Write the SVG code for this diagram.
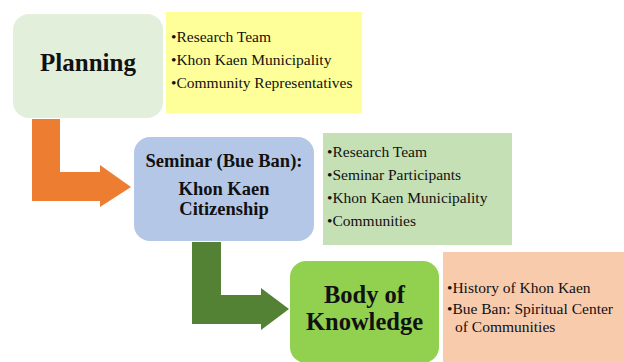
<svg xmlns="http://www.w3.org/2000/svg" width="624" height="362" viewBox="0 0 624 362">
<style>
.t{font-family:"Liberation Serif","Times New Roman",serif;fill:#111;}
.h{font-weight:bold;text-anchor:middle;}
.li{font-size:15.5px;}
</style>
<rect width="624" height="362" fill="#ffffff"/>
<g id="connectors">
<path d="M32,119 H60 V172 H100 V165 L131,187 L100,207 V201 H32 Z" fill="#ed7d31"/>
<path d="M192,242 H221 V295 H261 V288 L289,309 L261,330 V324 H192 Z" fill="#548235"/>
</g>
<g id="planning">
<rect x="13" y="14" width="150" height="104" rx="16" fill="#e2efda"/>
<text class="t h" x="88" y="71" font-size="25">Planning</text>
</g>
<g id="planning-list">
<rect x="166" y="12" width="196" height="101" fill="#ffff99"/>
<text class="t li" x="171" y="42">•Research Team</text>
<text class="t li" x="171" y="65">•Khon Kaen Municipality</text>
<text class="t li" x="171" y="88">•Community Representatives</text>
</g>
<g id="seminar">
<rect x="134" y="137" width="180" height="104" rx="16" fill="#b4c7e7"/>
<text class="t h" x="224" y="167" font-size="18.5">Seminar (Bue Ban):</text>
<text class="t h" x="224" y="195" font-size="18.5">Khon Kaen</text>
<text class="t h" x="224" y="215" font-size="18.5">Citizenship</text>
</g>
<g id="seminar-list">
<rect x="323" y="133" width="189" height="112" fill="#c5e0b4"/>
<text class="t li" x="327" y="157">•Research Team</text>
<text class="t li" x="327" y="180">•Seminar Participants</text>
<text class="t li" x="327" y="203">•Khon Kaen Municipality</text>
<text class="t li" x="327" y="226">•Communities</text>
</g>
<g id="body">
<rect x="290" y="261" width="149" height="102" rx="16" fill="#92d050"/>
<text class="t h" x="364.5" y="303" font-size="24.5">Body of</text>
<text class="t h" x="364.5" y="330" font-size="24.5">Knowledge</text>
</g>
<g id="body-list">
<rect x="443" y="252" width="181" height="110" fill="#f8cbad"/>
<text class="t li" x="447" y="293">•History of Khon Kaen</text>
<text class="t li" x="447" y="314">•Bue Ban: Spiritual Center</text>
<text class="t li" x="455" y="332">of Communities</text>
</g>
</svg>
